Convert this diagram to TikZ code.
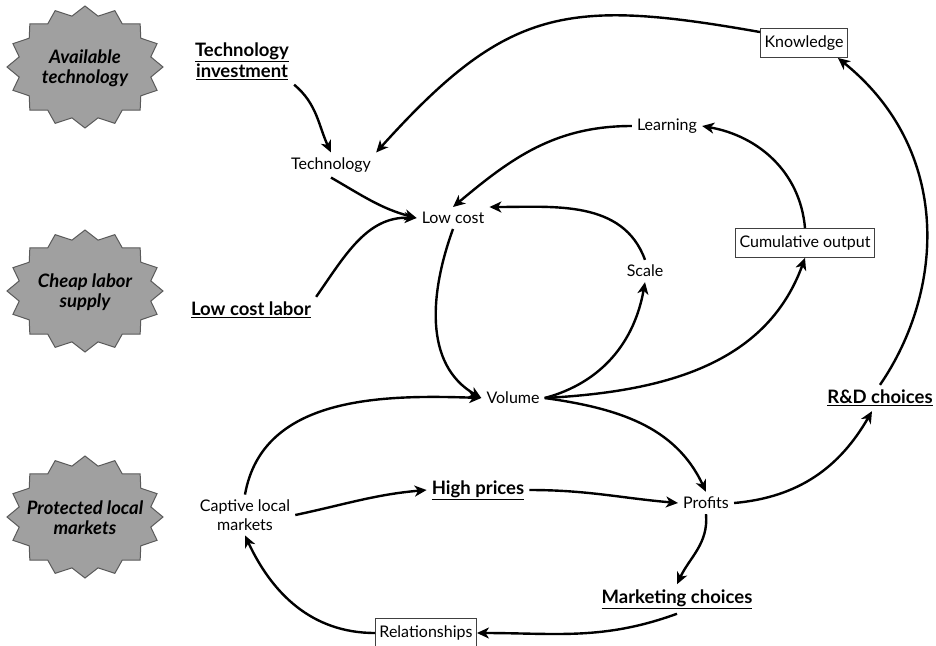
\documentclass[tikz,border=0pt]{standalone}
\usepackage{fontspec}
\setmainfont{Lato}
\usetikzlibrary{arrows.meta}
\definecolor{starfill}{HTML}{A0A0A0}
\definecolor{starline}{HTML}{5A5A5A}
\newcommand\ulb[1]{\underline{\textbf{#1}}}
\newcommand\mystar[2]{%
  \filldraw[fill=starfill,draw=starline,line width=1pt]
    plot[samples=33,domain=0:32]
    ({#1+78*ifthenelse(mod(round(\x),2)==0,1,0.86)*cos(\x*11.25-90)},
     {#2+61*ifthenelse(mod(round(\x),2)==0,1,0.85)*sin(\x*11.25-90)}) -- cycle;}
\begin{document}
\begin{tikzpicture}[x=1pt,y=-1pt,
  lbl/.style={font=\fontsize{16}{18.5}\selectfont,inner sep=5pt,align=center},
  blbl/.style={font=\fontsize{18.5}{21}\selectfont,inner sep=5pt,align=center},
  box/.style={lbl,draw=black!75,line width=0.9pt,inner sep=4pt,minimum height=29pt},
  slbl/.style={font=\fontsize{18.5}{20}\selectfont\bfseries\itshape,align=center},
  arr/.style={line width=2.4pt,-{Stealth[length=12pt,width=11pt,inset=3.5pt]}}]
\useasboundingbox (0,0) rectangle (936,645);
% starbursts
\mystar{85}{67}
\mystar{85}{291}
\mystar{85}{517}
\node[slbl] (s1) at (85,68) {Available\\technology};
\node[slbl] (s2) at (85,292) {Cheap labor\\supply};
\node[slbl] (s3) at (85,518) {Protected local\\markets};
% nodes
\node[blbl] (ti) at (242,61) {\ulb{Technology}\\\ulb{investment}};
\node[lbl] (tech) at (331,165) {Technology};
\node[lbl] (lc) at (453,218) {Low cost};
\node[lbl] (learn) at (667,126) {Learning};
\node[box] (kn) at (804,43) {Knowledge};
\node[lbl] (scale) at (645,271) {Scale};
\node[box] (cum) at (805,243) {Cumulative output};
\node[blbl] (lcl) at (251,310) {\ulb{Low cost labor}};
\node[lbl] (vol) at (513,398) {Volume};
\node[blbl] (rd) at (880,398) {\ulb{R\&D choices}};
\node[lbl] (cap) at (245,515) {Captive local\\markets};
\node[blbl] (hp) at (478,490) {\ulb{High prices}};
\node[lbl] (prof) at (706,503) {Profits};
\node[blbl] (mkt) at (677,599) {\ulb{Marketing choices}};
\node[box] (rel) at (426,633) {Relationships};
% connectors
\draw[arr] (ti.south east) to[out=-40,in=115] (tech.north);
\draw[arr] ([yshift=-4pt]kn.north west) to[out=170,in=48,looseness=1.25] (tech.north east);
\draw[arr] (tech.south) to[out=-30,in=165] (lc.west);
\draw[arr] (lcl.north east) to[out=55,in=178] (lc.west);
\draw[arr] (learn.west) to[out=180,in=40] (lc.north);
\draw[arr] (scale.north) to[out=110,in=0] (lc.north east);
\draw[arr] (lc.south) to[out=-110,in=150] (vol.west);
\draw[arr] (vol.east) to[out=15,in=-100] (scale.south);
\draw[arr] (vol.east) to[out=3,in=-110] (cum.south);
\draw[arr] (cum.north) to[out=95,in=-10] (learn.east);
\draw[arr] (vol.east) to[out=-8,in=115] (prof.north);
\draw[arr] (cap.north) to[out=80,in=178] (vol.west);
\draw[arr] (cap.east) to[out=12,in=185] (hp.west);
\draw[arr] (hp.east) to[out=0,in=175] (prof.west);
\draw[arr] (prof.east) to[out=5,in=-120] ([xshift=-8pt]rd.south);
\draw[arr] (rd.north) .. controls (945,290) and (952,150) .. ([xshift=-10pt]kn.south east);
\draw[arr] (prof.south) to[out=-85,in=65] (mkt.north);
\draw[arr] (mkt.south) to[out=-160,in=0] (rel.east);
\draw[arr] (rel.west) to[out=180,in=-65] (cap.south);
\end{tikzpicture}
\end{document}
